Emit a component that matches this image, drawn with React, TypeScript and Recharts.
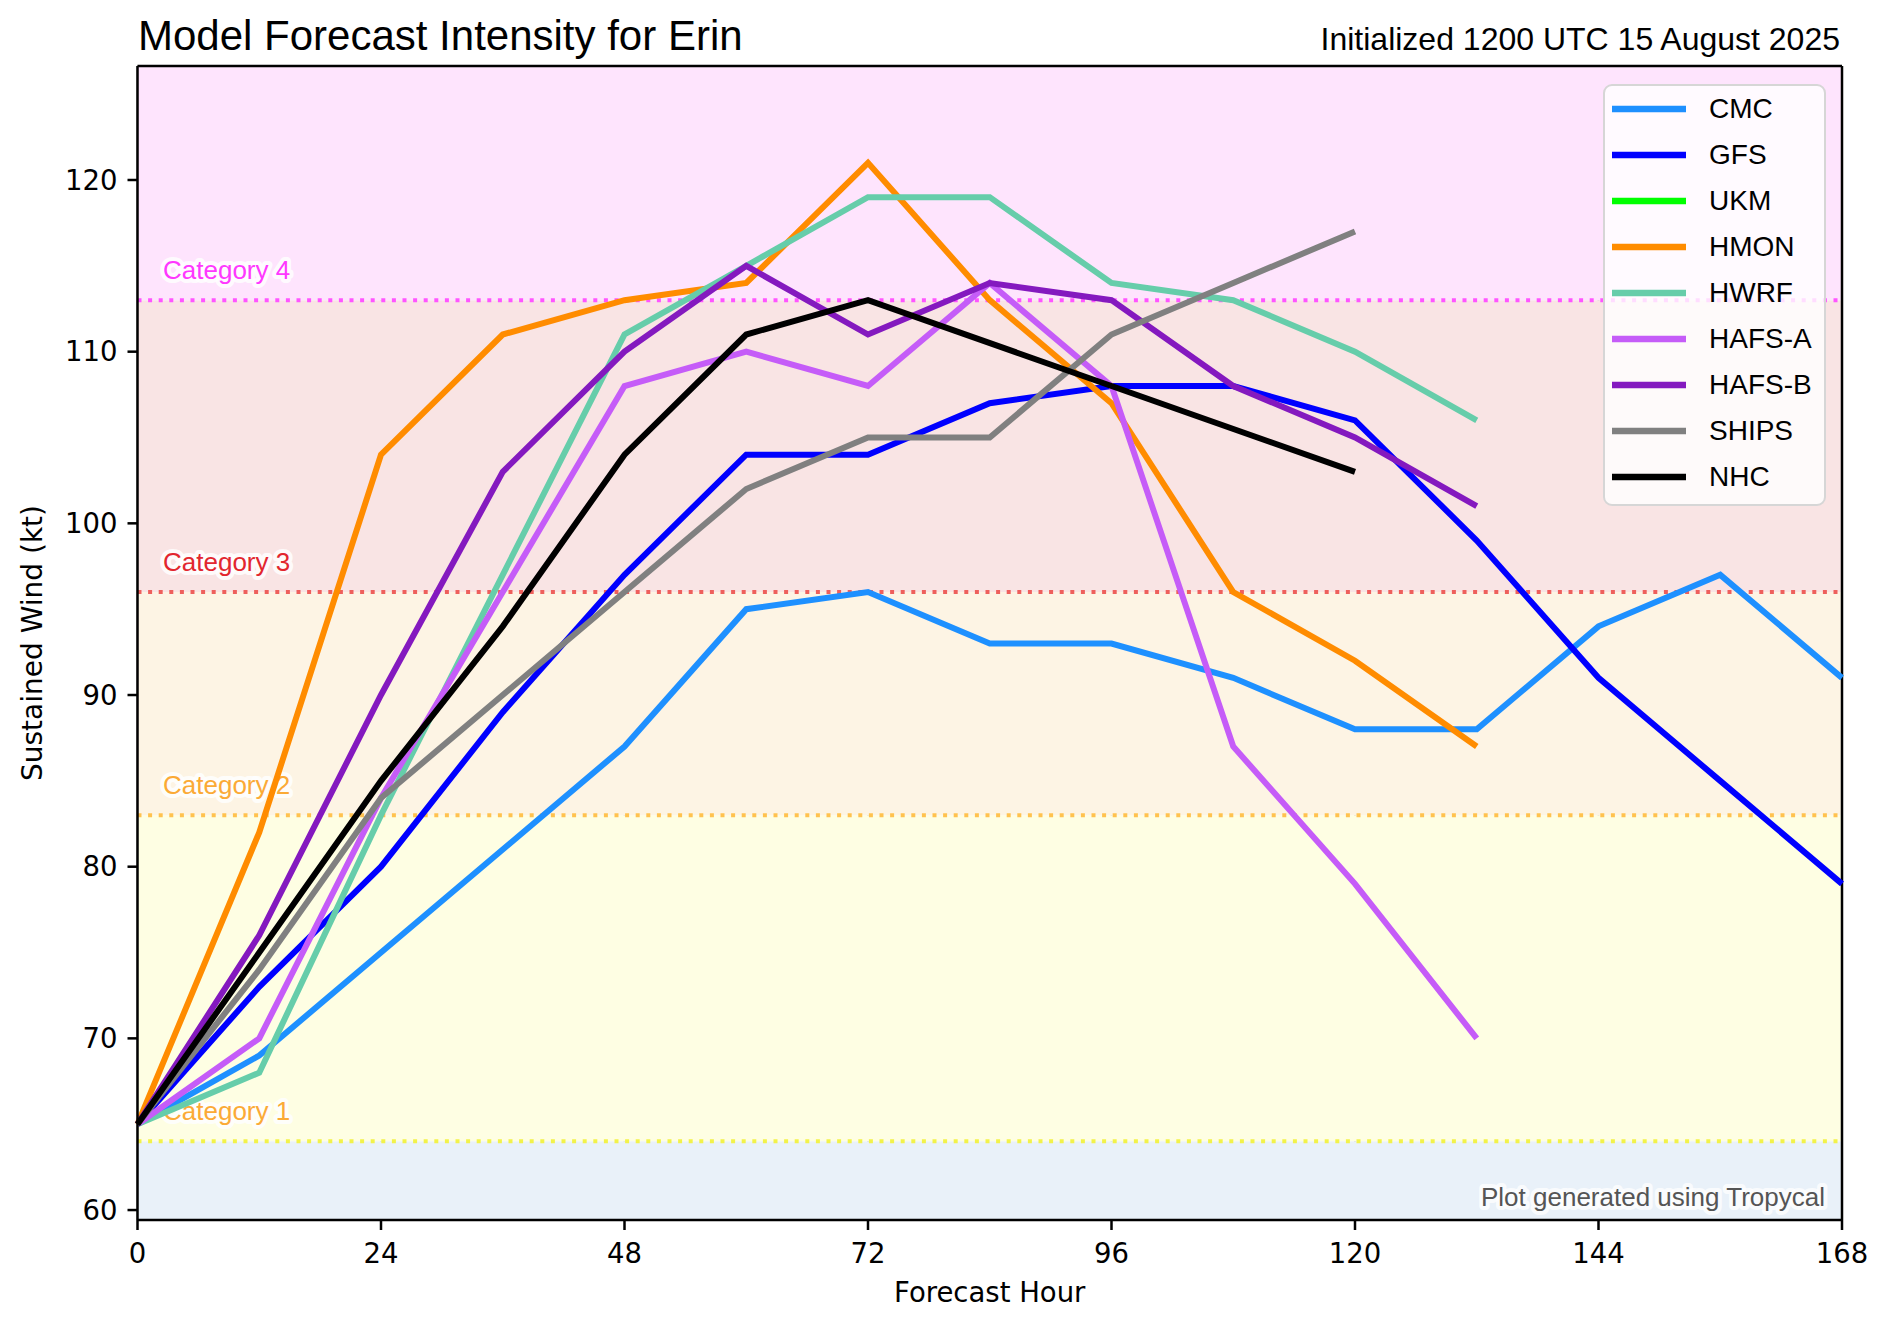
import React from 'react';
import { LineChart, Line, XAxis, YAxis, CartesianGrid, ReferenceArea, ReferenceLine, Legend } from 'recharts';

const hours = [0, 12, 24, 36, 48, 60, 72, 84, 96, 108, 120, 132, 144, 156, 168];
const xTicks = [0, 24, 48, 72, 96, 120, 144, 168];
const yTicks = [60, 70, 80, 90, 100, 110, 120];
const yDomain = [59.42, 126.64];

const cmc = [65, 69, 75, 81, 87, 95, 96, 93, 93, 91, 88, 88, 94, 97, 91];
const gfs = [65, 73, 80, 89, 97, 104, 104, 107, 108, 108, 106, 99, 91, 85, 79];
const ukm: (number | null)[] = [];
const hmon = [65, 82, 104, 111, 113, 114, 121, 113, 107, 96, 92, 87];
const hwrf = [65, 68, 83, 97, 111, 115, 119, 119, 114, 113, 110, 106];
const hafsA = [65, 70, 84, 96, 108, 110, 108, 114, 108, 87, 79, 70];
const hafsB = [65, 76, 90, 103, 110, 115, 111, 114, 113, 108, 105, 101];
const ships = [65, 74, 84, 90, 96, 102, 105, 105, 111, 114, 117];
const nhc = [65, 75, 85, 94, 104, 111, 113, null, 108, null, 103];

const seriesNames = ['CMC', 'GFS', 'UKM', 'HMON', 'HWRF', 'HAFS-A', 'HAFS-B', 'SHIPS', 'NHC'];
const seriesValues = [cmc, gfs, ukm, hmon, hwrf, hafsA, hafsB, ships, nhc];
const seriesColors = ['#1e90ff', '#0000ff', '#00ff00', '#ff8c00', '#66cdaa', '#c55cf8', '#8419bf', '#808080', '#000000'];

const categoryValues = [64, 83, 96, 113];
const categoryNames = ['Category 1', 'Category 2', 'Category 3', 'Category 4'];
const categoryLineColors = ['#f2f24a', '#ffc24f', '#ee5f5c', '#ff55ff'];
const categoryTextColors = ['#fbaa36', '#fbaa36', '#e2262e', '#ff38ff'];
const bandEdges = [yDomain[0], 64, 83, 96, 113, yDomain[1]];
const bandColors = ['#e9f1f9', '#fefee3', '#fdf4e4', '#f9e4e4', '#fee4fd'];

const data = hours.map((h, i) => {
  const row: Record<string, number | null> = { hour: h };
  seriesNames.forEach((n, k) => {
    const v = seriesValues[k][i];
    row[n] = v === undefined ? null : v;
  });
  return row;
});

const SANS = '"Liberation Sans", Arial, sans-serif';
const DEJAVU = '"DejaVu Sans", sans-serif';

const W = 1874;
const H = 1312;

const renderLegend = (props: any) => {
  const payload = [...(props.payload || [])].sort(
    (a: any, b: any) => seriesNames.indexOf(a.value) - seriesNames.indexOf(b.value)
  );
  return (
    <div
      style={{
        boxSizing: 'border-box',
        width: 223,
        paddingBottom: 4,
        border: '2.5px solid #d6d6d6',
        borderRadius: 9,
        background: 'rgba(255,255,255,0.8)',
      }}
    >
      {payload.map((e: any) => (
        <div key={e.value} style={{ position: 'relative', height: 46 }}>
          <svg width={74} height={8} style={{ position: 'absolute', left: 6.5, top: 19 }}>
            <line x1={0} y1={4} x2={74} y2={4} stroke={e.color} strokeWidth={6.5} />
          </svg>
          <span
            style={{
              position: 'absolute',
              left: 104,
              top: 0,
              lineHeight: '46px',
              fontSize: 28,
              fontFamily: SANS,
              color: '#000',
            }}
          >
            {e.value}
          </span>
        </div>
      ))}
    </div>
  );
};

const catLabel = (idx: number) => (props: any) => {
  const vb = props.viewBox || {};
  return (
    <text
      x={vb.x + 25.5}
      y={vb.y - 21}
      fontSize={26}
      fontFamily={SANS}
      fill={categoryTextColors[idx]}
      stroke="#ffffff"
      strokeOpacity={0.85}
      strokeWidth={8}
      strokeLinejoin="round"
      paintOrder="stroke"
    >
      {categoryNames[idx]}
    </text>
  );
};

export default function App() {
  return (
    <div style={{ position: 'relative', width: W, height: H }}>
      <LineChart
        width={W}
        height={H}
        data={data}
        margin={{ top: 58, right: 40, left: 0, bottom: 0 }}
        style={{ fontFamily: DEJAVU }}
      >
        {bandColors.map((c, i) => (
          <ReferenceArea
            key={'band' + i}
            y1={bandEdges[i]}
            y2={bandEdges[i + 1]}
            fill={c}
            fillOpacity={1}
            stroke="none"
            ifOverflow="hidden"
          />
        ))}
        <CartesianGrid stroke="#b0b0b0" strokeWidth={2} />
        {categoryValues.map((v, i) => (
          <ReferenceLine
            key={'cat' + i}
            y={v}
            stroke={categoryLineColors[i]}
            strokeWidth={4}
            strokeDasharray="4 6.6"
            label={catLabel(i)}
          />
        ))}
        <XAxis
          dataKey="hour"
          type="number"
          domain={[0, 168]}
          ticks={xTicks}
          height={100}
          tickSize={10}
          tickMargin={13}
          axisLine={{ stroke: '#000', strokeWidth: 2.5 }}
          tickLine={{ stroke: '#000', strokeWidth: 2.5 }}
          tick={{ fontSize: 27.5, fill: '#000', fontFamily: DEJAVU }}
          label={{
            content: (p: any) => {
              const vb = p.viewBox || {};
              return (
                <text x={vb.x + vb.width / 2} y={vb.y + 82} textAnchor="middle" fontSize={27.5} fontFamily={DEJAVU} fill="#000">
                  Forecast Hour
                </text>
              );
            },
          }}
        />
        <YAxis
          type="number"
          domain={yDomain}
          allowDataOverflow
          ticks={yTicks}
          width={129.5}
          tickSize={10}
          tickMargin={10}
          axisLine={{ stroke: '#000', strokeWidth: 2.5 }}
          tickLine={{ stroke: '#000', strokeWidth: 2.5 }}
          tick={{ fontSize: 27.5, fill: '#000', fontFamily: DEJAVU }}
          label={{
            content: (p: any) => {
              const vb = p.viewBox || {};
              const cx = vb.x + 34;
              const cy = vb.y + vb.height / 2;
              return (
                <text x={cx} y={cy} transform={`rotate(-90 ${cx} ${cy})`} textAnchor="middle" fontSize={28} fontFamily={DEJAVU} fill="#000">
                  Sustained Wind (kt)
                </text>
              );
            },
          }}
        />
        <ReferenceLine x={168} stroke="#000" strokeWidth={2.5} />
        <ReferenceLine y={yDomain[1]} stroke="#000" strokeWidth={2.5} />
        {seriesNames.map((n, k) => (
          <Line
            key={n}
            dataKey={n}
            name={n}
            type="linear"
            stroke={seriesColors[k]}
            strokeWidth={6}
            dot={false}
            activeDot={false}
            connectNulls={n === 'NHC'}
            isAnimationActive={false}
          />
        ))}
        <Legend
          layout="vertical"
          align="center"
          verticalAlign="middle"
          itemSorter={(item: any) => seriesNames.indexOf(item.value)}
          content={renderLegend}
          wrapperStyle={{ position: 'absolute', left: 1595, top: 76, width: 223, height: 'auto' }}
        />
      </LineChart>
      <svg width={W} height={H} style={{ position: 'absolute', left: 0, top: 0, pointerEvents: 'none' }}>
        <text x={130} y={42} fontSize={42} fontFamily={SANS} fill="#000">
          Model Forecast Intensity for Erin
        </text>
        <text x={1832} y={42} fontSize={32} fontFamily={SANS} fill="#000" textAnchor="end">
          Initialized 1200 UTC 15 August 2025
        </text>
        <text
          x={1817}
          y={1198}
          fontSize={26}
          fontFamily={SANS}
          fill="#555555"
          textAnchor="end"
          stroke="#ffffff"
          strokeOpacity={0.75}
          strokeWidth={8}
          strokeLinejoin="round"
          paintOrder="stroke"
        >
          Plot generated using Tropycal
        </text>
      </svg>
    </div>
  );
}
